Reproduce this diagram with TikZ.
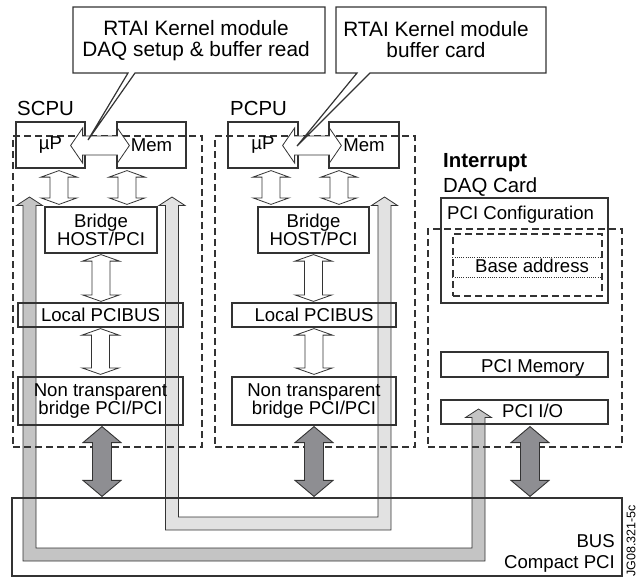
\documentclass[tikz,border=0pt]{standalone}
\usepackage{fontspec}
\setmainfont{Liberation Sans}
\usetikzlibrary{calc}

\definecolor{lineC}{HTML}{333333}
\definecolor{busDark}{HTML}{C4C4C4}
\definecolor{busLight}{HTML}{E2E2E2}
\definecolor{linkC}{HTML}{8E8E92}

\newcommand{\bodyfont}{\fontsize{18.6}{18}\selectfont}
\newcommand{\callfont}{\fontsize{20.8}{21}\selectfont}
\newcommand{\headfont}{\fontsize{20.4}{21}\selectfont}

% vertical double block arrow: style, top tip, bottom tip, shaft half width, head half width, head length
\newcommand{\vblock}[6]{%
  \draw[#1] let \p1=(#2), \p2=(#3) in
    (\x1,\y1) -- (\x1+#5,\y1-#6) -- (\x1+#4,\y1-#6) -- (\x1+#4,\y2+#6)
    -- (\x1+#5,\y2+#6) -- (\x1,\y2) -- (\x1-#5,\y2+#6) -- (\x1-#4,\y2+#6)
    -- (\x1-#4,\y1-#6) -- (\x1-#5,\y1-#6) -- cycle;}

% horizontal double block arrow: style, left tip, right tip, shaft half width, head half width, head length
\newcommand{\hblock}[6]{%
  \draw[#1] let \p1=(#2), \p2=(#3) in
    (\x1,\y1) -- (\x1+#6,\y1+#5) -- (\x1+#6,\y1+#4) -- (\x2-#6,\y1+#4)
    -- (\x2-#6,\y1+#5) -- (\x2,\y1) -- (\x2-#6,\y1-#5) -- (\x2-#6,\y1-#4)
    -- (\x1+#6,\y1-#4) -- (\x1+#6,\y1-#5) -- cycle;}

% U shaped link through the bus, head on both legs: style, left x, right x, bottom y, left tip y, right tip y
\newcommand{\ulink}[6]{%
  \draw[#1] (#2,#5) -- (#2+\linkH,#5+\linkL) -- (#2+\linkW,#5+\linkL) -- (#2+\linkW,#4-\linkW)
    -- (#3-\linkW,#4-\linkW) -- (#3-\linkW,#6+\linkL) -- (#3-\linkH,#6+\linkL) -- (#3,#6)
    -- (#3+\linkH,#6+\linkL) -- (#3+\linkW,#6+\linkL) -- (#3+\linkW,#4+\linkW)
    -- (#2-\linkW,#4+\linkW) -- (#2-\linkW,#5+\linkL) -- (#2-\linkH,#5+\linkL) -- cycle;}

\begin{document}
\begin{tikzpicture}[x=1pt, y=-1pt,
    box/.style={draw=lineC, line width=1.2pt, rectangle, inner sep=0pt, align=center, font=\bodyfont},
    cardframe/.style={draw=lineC, line width=1.3pt, dash pattern=on 7pt off 4pt, rectangle, inner sep=0pt},
    txt/.style={inner sep=0pt, font=\bodyfont},
    hollow/.style={draw=lineC, line width=0.8pt, fill=white},
    linkarrow/.style={draw=lineC, line width=0.9pt, fill=linkC},
    busdark/.style={draw=lineC, line width=0.8pt, fill=busDark},
    buslight/.style={draw=lineC, line width=0.8pt, fill=busLight},
    callout/.style={draw=lineC, line width=1.2pt}
]
  \useasboundingbox (0,0) rectangle (644,583);

  % Sizes of the gray links
  \def\linkW{6.5}   % half width of the shaft
  \def\linkH{13}    % half width of the head
  \def\linkL{8.5}   % length of the head

  % Gray links through the Compact PCI bus
  \ulink{busdark}{29.5}{478.5}{554.5}{197}{409}
  \ulink{buslight}{172}{384.5}{523.5}{197}{197}

  % Dashed outlines of the boards
  \node[cardframe, minimum width=189, minimum height=311] (scpu) at (107.5,291.5) {};
  \node[cardframe, minimum width=200, minimum height=311] (pcpu) at (315,291.5) {};
  \node[cardframe, minimum width=194, minimum height=218] (daq) at (525,338) {};

  % SCPU board
  \node[box, minimum width=69, minimum height=46] (uP1) at (50.5,145) {µP};
  \node[box, minimum width=69, minimum height=46] (mem1) at (151.5,145) {Mem};
  \node[box, minimum width=112, minimum height=46] (br1) at (101,230) {Bridge\\HOST/PCI};
  \node[box, minimum width=165, minimum height=24] (loc1) at (100.5,315) {Local PCIBUS};
  \node[box, minimum width=165, minimum height=48] (ntb1) at (100.5,401) {Non transparent\\bridge PCI/PCI};

  % PCPU board
  \node[box, minimum width=70, minimum height=46] (uP2) at (263,145) {µP};
  \node[box, minimum width=70, minimum height=46] (mem2) at (364,145) {Mem};
  \node[box, minimum width=111, minimum height=46] (br2) at (313.5,230) {Bridge\\HOST/PCI};
  \node[box, minimum width=164, minimum height=24] (loc2) at (314,315) {Local PCIBUS};
  \node[box, minimum width=164, minimum height=48] (ntb2) at (314,401) {Non transparent\\bridge PCI/PCI};

  % DAQ card
  \node[box, minimum width=167, minimum height=105] (cfg) at (524.5,250.5) {};
  \node[txt, anchor=base west] (cfgText) at (447,219) {PCI Configuration};
  \node[cardframe, line width=1.1pt, minimum width=149, minimum height=62] (base) at (527.5,265) {};
  \draw[lineC, line width=0.6pt, dash pattern=on 1pt off 1.2pt]
    ($(base.west)+(0,-8)$) -- ($(base.east)+(0,-8)$)
    ($(base.west)+(0,12)$) -- ($(base.east)+(0,12)$);
  \node[txt, anchor=base west] (baseText) at (475,272) {Base address};
  \node[box, minimum width=167, minimum height=25] (pmem) at (524.5,364.5) {};
  \node[txt, anchor=base west] (pmemText) at (481,372) {PCI Memory};
  \node[box, minimum width=167, minimum height=24] (pcio) at (524.5,412) {};
  \node[txt, anchor=base west] (pcioText) at (502,417) {PCI I/O};

  % Compact PCI bus
  \node[box, minimum width=610, minimum height=78] (bus) at (317,537) {};
  \node[txt, anchor=base east] (busText) at (615,547) {BUS};
  \node[txt, anchor=base east] (cpciText) at (615,568) {Compact PCI};

  % Hollow arrows inside the boards
  \hblock{hollow}{$(uP1.east)+(-15,0.5)$}{$(mem1.west)+(13,0)$}{9.5pt}{17.5pt}{12pt}
  \hblock{hollow}{$(uP2.east)+(-16,0.5)$}{$(mem2.west)+(13,0)$}{9.5pt}{17.5pt}{12pt}
  \vblock{hollow}{$(uP1.south)+(8.5,2)$}{$(br1.north)+(0,-2)$}{9pt}{18pt}{6.5pt}
  \vblock{hollow}{$(mem1.south)+(-24.5,2)$}{$(br1.north)+(0,-2)$}{9pt}{18pt}{6.5pt}
  \vblock{hollow}{$(br1.south)+(0,1)$}{$(loc1.north)+(0,-1)$}{9pt}{18.5pt}{6.5pt}
  \vblock{hollow}{$(loc1.south)+(0,1)$}{$(ntb1.north)+(0,-2)$}{9pt}{18.5pt}{6.5pt}
  \vblock{hollow}{$(uP2.south)+(8,2)$}{$(br2.north)+(0,-2)$}{9pt}{18pt}{6.5pt}
  \vblock{hollow}{$(mem2.south)+(-25,2)$}{$(br2.north)+(0,-2)$}{9pt}{18pt}{6.5pt}
  \vblock{hollow}{$(br2.south)+(0,1)$}{$(loc2.north)+(0,-1)$}{9pt}{18.5pt}{6.5pt}
  \vblock{hollow}{$(loc2.south)+(0,1)$}{$(ntb2.north)+(0,-2)$}{9pt}{18.5pt}{6.5pt}

  % Dark arrows to the bus
  \vblock{linkarrow}{$(ntb1.south)+(1.5,1)$}{$(bus.north)+(0,-1)$}{9.5pt}{19pt}{16pt}
  \vblock{linkarrow}{$(ntb2.south)+(0,1)$}{$(bus.north)+(0,-1)$}{9.5pt}{19pt}{16pt}
  \vblock{linkarrow}{$(pcio.south)+(5.5,2)$}{$(bus.north)+(0,-1)$}{9.5pt}{19pt}{16pt}

  % Labels of the boards
  \node[inner sep=0pt, font=\headfont, anchor=base west] (scpuText) at (17,115) {SCPU};
  \node[inner sep=0pt, font=\headfont, anchor=base west] (pcpuText) at (230,115) {PCPU};
  \node[inner sep=0pt, font=\headfont\bfseries, anchor=base west] (irqText) at (443,167) {Interrupt};
  \node[inner sep=0pt, font=\headfont, anchor=base west] (daqText) at (443,192) {DAQ Card};

  % Callouts
  \draw[callout] (73,7) -- (325,7) -- (325,73) -- (135,73) -- (88,140) -- (128,73) -- (73,73) -- cycle;
  \node[inner sep=0pt, font=\callfont, align=center] (note1) at (196,41) {RTAI Kernel module\\DAQ setup \& buffer read};
  \draw[callout] (336,7) -- (546,7) -- (546,73) -- (370,73) -- (297,146) -- (357,73) -- (336,73) -- cycle;
  \node[inner sep=0pt, font=\callfont, align=center] (note2) at (436,40) {RTAI Kernel module\\buffer card};

  % Drawing number
  \node[inner sep=0pt, font=\fontsize{12.5}{12}\selectfont, rotate=90] (ref) at (631,541) {JG08.321-5c};

\end{tikzpicture}
\end{document}
